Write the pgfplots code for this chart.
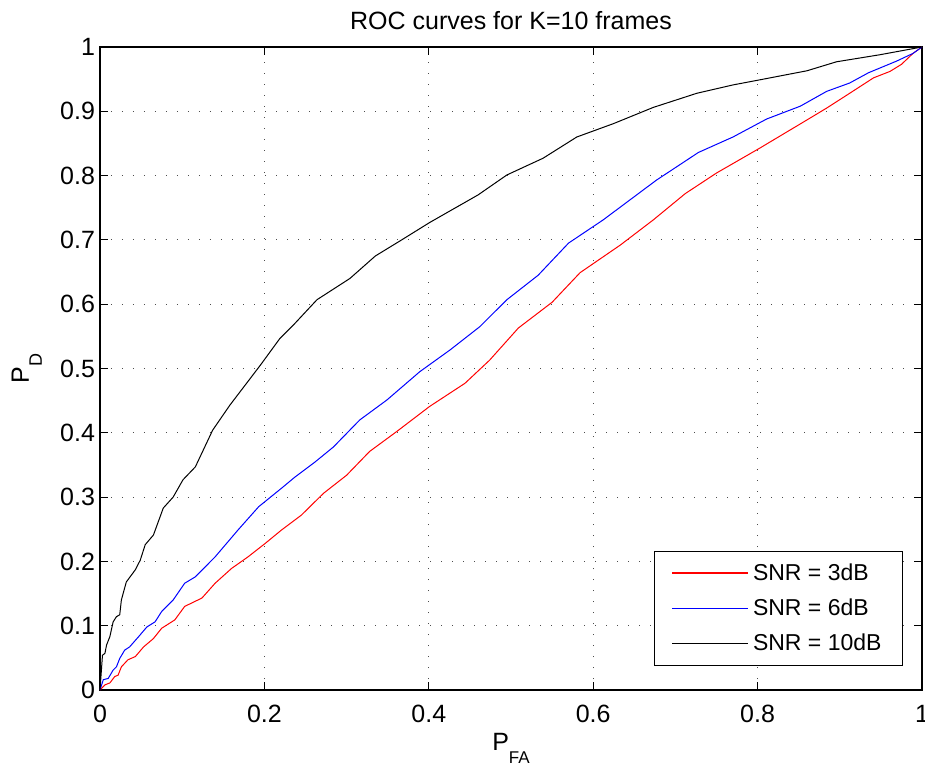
\documentclass[border=0pt]{standalone}
\usepackage{fontspec}
\setmainfont{Liberation Sans}
\usepackage{pgfplots}
\pgfplotsset{compat=1.18}

\begin{document}
\begin{tikzpicture}
\begin{axis}[
    scale only axis,
    width=411pt,
    height=321.5pt,
    xmin=0, xmax=1,
    ymin=0, ymax=1,
    xtick={0,0.2,...,1},
    ytick={0,0.1,...,1},
    /pgf/number format/assume math mode=true,
    ticklabel style={font=\fontsize{12.5}{14}\selectfont},
    xticklabel style={yshift=-4pt},
    yticklabel style={xshift=1pt},
    tick align=inside,
    major tick length=4pt,
    tick style={black, line width=0.5pt},
    axis line style={line width=0.6pt},
    grid=major,
    major grid style={black!70, line width=0.4pt, dash pattern=on 0.5pt off 5pt},
    title={ROC curves for K=10 frames},
    title style={font=\fontsize{12.5}{14}\selectfont, at={(0.5,1)}, anchor=base, yshift=2.5pt},
    xlabel={P\raisebox{-6.5pt}{\fontsize{8.5}{10}\selectfont FA}},
    ylabel={P\raisebox{-6.5pt}{\fontsize{9}{10}\selectfont D}},
    label style={font=\fontsize{12.5}{14}\selectfont},
    xlabel style={at={(axis description cs:0.5,0)}, anchor=base, yshift=-30pt},
    ylabel style={at={(axis description cs:-0.0864,0.5)}, anchor=base},
    legend style={
        at={(0.977,0.037)}, anchor=south east,
        font=\fontsize{11.5}{13}\selectfont,
        draw=black, line width=0.6pt,
        row sep=3.75pt, inner xsep=8.5pt, inner ysep=4pt,
    },
    legend cell align=left,
    legend image code/.code={\draw[#1] (0pt,0.25pt) -- (38pt,0.25pt);},
]
\addplot[red, line width=0.5pt, forget plot] coordinates {
(0,0) (0.006,0.008) (0.012,0.011) (0.018,0.021) (0.022,0.023) (0.026,0.036)
(0.034,0.047) (0.043,0.052) (0.053,0.067) (0.065,0.080) (0.075,0.096)
(0.091,0.109) (0.103,0.130) (0.124,0.143) (0.140,0.166) (0.160,0.189)
(0.180,0.207) (0.201,0.228) (0.221,0.249) (0.245,0.272) (0.272,0.306)
(0.300,0.334) (0.328,0.371) (0.361,0.402) (0.401,0.441) (0.444,0.477)
(0.474,0.513) (0.509,0.563) (0.550,0.603) (0.584,0.649) (0.633,0.692)
(0.673,0.731) (0.712,0.772) (0.750,0.804) (0.803,0.843) (0.858,0.885)
(0.884,0.905) (0.912,0.928) (0.941,0.952) (0.961,0.962) (0.975,0.973)
(0.989,0.990) (1,1)
};
\addplot[blue, line width=0.5pt, forget plot] coordinates {
(0,0) (0.004,0.016) (0.010,0.018) (0.016,0.031) (0.020,0.036) (0.024,0.049)
(0.030,0.062) (0.036,0.067) (0.047,0.083) (0.057,0.098) (0.067,0.106)
(0.075,0.122) (0.089,0.140) (0.103,0.166) (0.116,0.176) (0.140,0.207)
(0.168,0.249) (0.193,0.285) (0.221,0.314) (0.237,0.331) (0.262,0.355)
(0.284,0.378) (0.316,0.420) (0.349,0.451) (0.389,0.495) (0.426,0.529)
(0.462,0.565) (0.495,0.607) (0.533,0.645) (0.570,0.695) (0.612,0.731)
(0.677,0.793) (0.728,0.836) (0.770,0.860) (0.811,0.888) (0.852,0.908)
(0.884,0.931) (0.912,0.944) (0.935,0.960) (0.969,0.978) (0.989,0.990) (1,1)
};
\addplot[black, line width=0.5pt, forget plot] coordinates {
(0,0) (0.003,0.054) (0.006,0.057) (0.008,0.070) (0.012,0.083) (0.016,0.106)
(0.020,0.114) (0.024,0.117) (0.026,0.140) (0.032,0.168) (0.043,0.187)
(0.049,0.202) (0.055,0.226) (0.065,0.241) (0.077,0.283) (0.089,0.300)
(0.101,0.327) (0.116,0.347) (0.137,0.404) (0.158,0.443) (0.195,0.505)
(0.219,0.547) (0.237,0.570) (0.264,0.607) (0.304,0.640) (0.335,0.675)
(0.367,0.700) (0.401,0.727) (0.460,0.770) (0.495,0.801) (0.539,0.827)
(0.580,0.860) (0.625,0.881) (0.673,0.906) (0.726,0.928) (0.770,0.941)
(0.803,0.949) (0.860,0.963) (0.896,0.977) (0.949,0.988) (1,1)
};
\addlegendimage{draw=red, line width=0.6pt}
\addlegendentry{SNR = 3dB}
\addlegendimage{draw=blue, line width=0.6pt}
\addlegendentry{SNR = 6dB}
\addlegendimage{draw=black, line width=0.6pt}
\addlegendentry{SNR = 10dB}
\end{axis}
% page size as in the reference: the last x tick label runs off the right edge
\pgfresetboundingbox
\path ([shift={(-50pt,-37.5pt)}]current axis.south west)
  rectangle ([shift={(1.5pt,23.5pt)}]current axis.north east);
\end{tikzpicture}
\end{document}
